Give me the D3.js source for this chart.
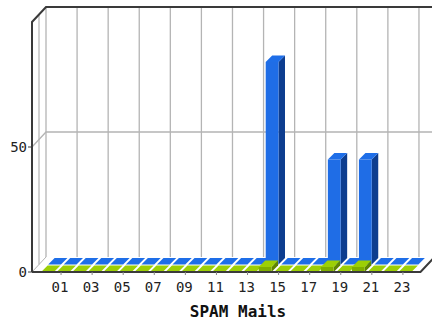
<!DOCTYPE html>
<html><head><meta charset="utf-8">
<script src="https://cdn.jsdelivr.net/npm/d3@7/dist/d3.min.js"></script>
<style>html,body{margin:0;padding:0;background:#fff;}svg{display:block;}</style>
</head><body>
<script>
// ---- data ----
const hours = ["01","02","03","04","05","06","07","08","09","10","11","12","13","14","15","16","17","18","19","20","21","22","23","24"];
const spamValues  = [0,0,0,0,0,0,0,0,0,0,0,0,0,0,81,0,0,0,42,0,42,0,0,0];
const otherValues = [0,0,0,0,0,0,0,0,0,0,0,0,0,0,2,0,0,0,2,0,2,0,0,0];
const tickLabels = ["01","03","05","07","09","11","13","15","17","19","21","23"];
const yTicks = [0, 50];
const xTitle = "SPAM Mails";

// ---- layout ----
const W = 432, H = 321;
const STEP = 15.54, X0 = 32, X1 = X0 + 25 * STEP;
const DX = 14, DY = 15;          // total depth
const RDX = 7, RDY = 7.5;        // row offset
const BDX = 6.5, BDY = 6.5;      // bar depth
const BW = 12.8;

const svg = d3.select("body").append("svg").attr("width", W).attr("height", H);

const pos = d3.scaleLinear().domain([0, 25]).range([X0, X1]);
const x = d3.scalePoint().domain(hours).range([pos(1), pos(24)]);
const y = d3.scaleLinear().domain([0, 100]).range([272, 22]);

const grid = "#b4b4b4", dark = "#3a3a3a";

// back plane
svg.append("rect").attr("x", X0 + DX).attr("y", y(100) - DY)
  .attr("width", X1 - X0).attr("height", y(0) - y(100)).attr("fill", "#fff");
// vertical grid on back plane
d3.range(0, 25, 2).forEach(k => {
  svg.append("line").attr("x1", pos(k) + DX).attr("x2", pos(k) + DX)
    .attr("y1", y(100) - DY).attr("y2", y(0) - DY)
    .attr("stroke", grid).attr("stroke-width", 1.3);
});
// horizontal grid at 50 (back + left wall)
yTicks.filter(t => t > 0).forEach(t => {
  svg.append("polyline")
    .attr("points", `${X0},${y(t)} ${X0 + DX},${y(t) - DY} ${X1 + DX},${y(t) - DY}`)
    .attr("fill", "none").attr("stroke", grid).attr("stroke-width", 1.3);
});
// left wall middle line
svg.append("line").attr("x1", X0 + RDX).attr("x2", X0 + RDX)
  .attr("y1", y(100) - RDY).attr("y2", y(0) - RDY)
  .attr("stroke", grid).attr("stroke-width", 1.2);
// floor left diagonal
svg.append("line").attr("x1", X0).attr("y1", y(0)).attr("x2", X0 + DX).attr("y2", y(0) - DY)
  .attr("stroke", grid).attr("stroke-width", 1);

// bars
function drawBar(g, cx, v, off, c) {
  const x0 = cx - BW / 2 + off.dx, y0 = y(0) - off.dy;
  const yt = y0 - (y(0) - y(v));
  if (v > 0) {
    g.append("polygon").attr("points",
      `${x0 + BW},${y0} ${x0 + BW},${yt} ${x0 + BW + BDX},${yt - BDY} ${x0 + BW + BDX},${y0 - BDY}`)
      .attr("fill", c.side);
  }
  g.append("polygon").attr("points",
    `${x0},${yt} ${x0 + BW},${yt} ${x0 + BW + BDX},${yt - BDY} ${x0 + BDX},${yt - BDY}`)
    .attr("fill", c.top);
  if (v > 0) {
    g.append("rect").attr("x", x0).attr("y", yt).attr("width", BW).attr("height", y0 - yt)
      .attr("fill", c.front);
  }
}
const blue = {front: "#1f6de6", top: "#1e6ee8", side: "#0d3d8f"};
const green = {front: "#7fae00", top: "#9ccf06", side: "#5f8500"};
const gBlue = svg.append("g"), gGreen = svg.append("g");
hours.forEach((h, i) => drawBar(gBlue, x(h), spamValues[i], {dx: RDX, dy: RDY}, blue));
hours.forEach((h, i) => drawBar(gGreen, x(h), otherValues[i], {dx: 0, dy: 0}, green));

// frame lines
svg.append("polyline")
  .attr("points", `${X0},${y(0)} ${X0},${y(100)} ${X0 + DX},${y(100) - DY} ${W + 5},${y(100) - DY}`)
  .attr("fill", "none").attr("stroke", dark).attr("stroke-width", 2);
svg.append("polyline")
  .attr("points", `${X0},${y(0)} ${X1},${y(0)} ${X1 + DX},${y(0) - DY}`)
  .attr("fill", "none").attr("stroke", dark).attr("stroke-width", 2);

// y ticks + labels
yTicks.forEach(t => {
  svg.append("line").attr("x1", X0 - 4).attr("x2", X0).attr("y1", y(t)).attr("y2", y(t))
    .attr("stroke", dark).attr("stroke-width", 1);
  svg.append("text").attr("x", X0 - 5).attr("y", y(t)).attr("dy", "0.36em")
    .attr("text-anchor", "end").attr("font-family", "DejaVu Sans Mono")
    .attr("font-size", 14).attr("fill", "#222").text(t);
});
// x ticks + labels
tickLabels.forEach(l => {
  const lx = x(l) + 12.5;
  svg.append("line").attr("x1", lx + 1).attr("x2", lx + 1).attr("y1", y(0)).attr("y2", y(0) + 3)
    .attr("stroke", "#888").attr("stroke-width", 1);
  svg.append("text").attr("x", lx).attr("y", 292).attr("text-anchor", "middle")
    .attr("font-family", "DejaVu Sans Mono").attr("font-size", 14).attr("fill", "#222").text(l);
});
svg.append("text").attr("x", 238).attr("y", 317).attr("text-anchor", "middle")
  .attr("font-family", "DejaVu Sans Mono").attr("font-weight", "bold")
  .attr("font-size", 16).attr("fill", "#111").text(xTitle);
</script>
</body></html>
